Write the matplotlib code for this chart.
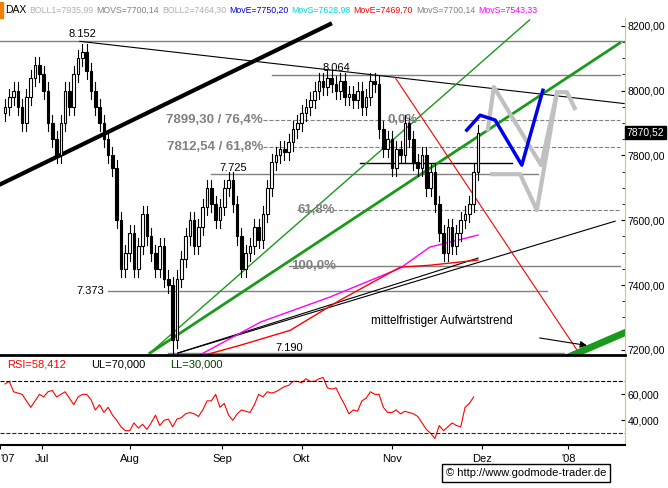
import matplotlib
matplotlib.use("Agg")
import matplotlib.pyplot as plt
from matplotlib.patches import Rectangle

# Data

closes = [7950, 7980, 8000, 7950, 7900, 7980, 8040, 8080, 8050,
          8000, 7900, 7850, 7800, 7900, 8000, 7950, 8050, 8100,
          8120, 8060, 8000, 7950, 7900, 7850, 7800, 7760,
          7600, 7450, 7500, 7560, 7450, 7520, 7620, 7550,
          7500, 7450, 7520, 7420, 7400, 7230, 7420,
          7480, 7550, 7600, 7520, 7580, 7640, 7700, 7650, 7600, 7640,
          7700, 7725, 7650, 7550, 7450, 7500,
          7520, 7580, 7540, 7620, 7700, 7780, 7800, 7820, 7810, 7840,
          7880, 7900, 7930, 7950, 7970, 8000, 8030, 8010, 8040, 8020,
          8000, 8030, 7980, 7990, 7970, 8000, 7950, 7980, 8030, 8020, 7880,
          7820, 7850, 7760, 7820, 7800, 7900, 7850, 7780, 7760, 7800, 7700, 7750,
          7650, 7560, 7500, 7580, 7520, 7560, 7600, 7620, 7650, 7750, 7870]
wick = 25

rsi = [68, 70, 62, 61, 60, 55, 50, 55, 60, 58, 62, 63, 58, 60, 62, 57, 52, 58, 60, 60,
       56, 48, 52, 46, 50, 44, 40, 35, 32, 32, 38, 34, 37, 33, 38, 44, 36, 40,
       41, 35, 41, 42, 45, 46, 45, 43, 48, 55, 55, 60, 50, 53, 44,
       40, 45, 48, 47, 46, 52, 60, 58, 62, 61, 62, 64, 66, 67, 70, 70, 69, 72, 70,
       70, 72, 73, 65, 64, 65, 58, 52, 45, 48, 47, 55, 57, 62, 60, 60, 50, 46, 46, 48,
       45, 47, 46, 45, 43, 38, 33, 30, 26, 36, 32, 35, 38, 36, 35, 50, 53, 58]

month_pos = [-1.1, 8.5, 29, 50.5, 69, 90, 111, 131]
month_lbl = ["'07", "Jul", "Aug", "Sep", "Okt", "Nov", "Dez", "'08"]

# Drawing

fig = plt.figure(figsize=(6.68, 4.88), dpi=100)
ax = fig.add_axes([0, 1 - 355/488, 625/668, 337/488])
rx = fig.add_axes([0, 1 - 445/488, 625/668, 87/488])

for i, c in enumerate(closes):
    o = closes[i - 1] if i > 0 else c - 20
    lo, hi = min(o, c), max(o, c)
    bottom = 7190 if i == 39 else lo - wick
    ax.plot([i, i], [bottom, hi + wick], color='black', lw=0.8, zorder=3)
    fc = 'white' if c >= o else 'black'
    ax.add_patch(Rectangle((i - 0.3, lo), 0.6, max(hi - lo, 3), facecolor=fc,
                           edgecolor='black', lw=0.8, zorder=4))

def seg(xs, ys, **kw):
    ax.plot(xs, ys, **kw)

gray = '#808080'
seg([-1.2, 144], [8153, 8153], color=gray, lw=1)
seg([62, 143], [8048, 8048], color=gray, lw=1)
seg([60, 143], [7910, 7910], color=gray, lw=0.8, ls='--')
seg([60, 143], [7825, 7825], color=gray, lw=0.8, ls='--')
seg([48, 124], [7742, 7742], color=gray, lw=1)
seg([68, 143], [7631, 7631], color=gray, lw=0.8, ls='--')
seg([66, 143], [7458, 7458], color=gray, lw=1)
seg([24, 126], [7381, 7381], color=gray, lw=1)
seg([38, 130], [7190, 7190], color=gray, lw=1)
seg([82.5, 118], [7776, 7776], color='black', lw=1)

seg([-1.2, 75.6], [7710, 8205], color='black', lw=3)
seg([17.4, 144], [8152, 7960], color='black', lw=0.8)
seg([33.7, 122], [7190, 8218], color='#1a9a1a', lw=1)
seg([33.7, 143], [7190, 8147], color='#1a9a1a', lw=2)
seg([40.2, 141.9], [7190, 7597], color='black', lw=0.8)
seg([40.2, 110], [7190, 7483], color='black', lw=0.8)
seg([90.7, 134], [8041, 7180], color='red', lw=0.8)
seg([45.3, 59.5, 75.6, 91.9, 98.8, 110], [7184, 7286, 7363, 7452, 7517, 7554],
    color='magenta', lw=1)
seg([46.5, 54.7, 66.3, 77.9, 91.9, 98.8, 110], [7184, 7214, 7260, 7353, 7455, 7461, 7477],
    color='red', lw=1)
seg([112.3, 113.7, 124.7, 128.4], [7880, 8011, 7770, 7995], color='#c0c0c0', lw=3, zorder=2)
seg([113.3, 119.8, 123.7, 128.4, 130.7, 132.5], [7742, 7742, 7631, 7995, 7995, 7946],
    color='#c0c0c0', lw=3, zorder=2)
seg([107.4, 110.5, 114, 120.2, 125.1], [7878, 7924, 7909, 7770, 8001], color='#0000ee', lw=2.5, zorder=5)
seg([131.4, 144], [7180, 7252], color='#1a9a1a', lw=5)
ax.annotate('', xy=(136, 7212), xytext=(123.7, 7238),
            arrowprops=dict(arrowstyle='-|>', color='black', lw=0.8))

tk = dict(fontsize=8, family='Liberation Sans')
ax.text(18, 8165, '8.152', ha='center', **tk)
ax.text(77, 8060, '8.064', ha='center', **tk)
ax.text(53, 7752, '7.725', ha='center', **tk)
ax.text(23, 7381, '7.373', ha='right', va='center', **tk)
ax.text(66, 7196, '7.190', ha='center', **tk)
ax.text(101.5, 7280, 'mittelfristiger Aufwärtstrend', ha='center', fontsize=8.5, family='Liberation Sans')
fb = dict(fontsize=9.5, family='Liberation Sans', color=gray, fontweight='bold', va='center')
ax.text(60, 7910, '7899,30 / 76,4%', ha='right', **fb)
ax.text(60, 7825, '7812,54 / 61,8%', ha='right', **fb)
ax.text(89, 7910, '0,0%', ha='left', **fb)
ax.text(68, 7631, '61,8%', ha='left', **fb)
ax.text(66.5, 7458, '100,0%', ha='left', **fb)

sk = dict(fontsize=7.5, family='Liberation Sans')
ax.set_xlim(-1.16, 144.2)
ax.set_ylim(7184, 8224)
ax.set_xticks([])
ax.yaxis.tick_right()
ax.set_yticks(range(7200, 8201, 200))
ax.set_yticks(range(7200, 8201, 50), minor=True)
ax.set_yticklabels([f'{v},00' for v in range(7200, 8201, 200)], **sk)
ax.tick_params(axis='y', direction='in', length=3, pad=2)
ax.tick_params(axis='y', which='minor', direction='in', length=2)
ax.text(144.6, 7870, '7870,52', ha='left', va='center', color='white', fontsize=7.5,
        family='Liberation Sans', bbox=dict(facecolor='black', pad=1.2, edgecolor='black'), clip_on=False)
for s in ['top', 'left']:
    ax.spines[s].set_visible(False)
ax.spines['bottom'].set_linewidth(2)
ax.spines['right'].set_color('#f0c040')

rx.plot(range(len(rsi)), rsi, color='red', lw=0.8)
rx.axhline(70, color='black', lw=0.8, ls='--')
rx.axhline(30, color='#004000', lw=0.8, ls='--')
rx.set_xlim(-1.16, 144.2)
rx.set_ylim(21, 88)
rx.yaxis.tick_right()
rx.set_yticks([40, 60])
rx.set_yticklabels(['40,000', '60,000'], **sk)
rx.tick_params(axis='y', direction='in', length=3, pad=2)
rx.set_xticks(month_pos)
rx.set_xticklabels(month_lbl, **tk)
rx.get_xticklabels()[0].set_horizontalalignment('left')
rx.tick_params(axis='x', direction='out', length=3)
rx.spines['top'].set_visible(False)
rx.spines['left'].set_visible(False)
rx.spines['bottom'].set_linewidth(1.5)
rx.spines['right'].set_color('#f0c040')
rx.text(0.5, 83, 'RSI=58,412', color='red', fontsize=8, family='Liberation Sans', va='center')
rx.text(20, 83, 'UL=70,000', color='black', fontsize=8, family='Liberation Sans', va='center')
rx.text(38.5, 83, 'LL=30,000', color='#004000', fontsize=8, family='Liberation Sans', va='center')

# header laid out left to right
hdr = [('DAX', 'black'), ('BOLL1=7935,99', '#b0b0b0'), ('MOVS=7700,14', gray),
       ('BOLL2=7464,30', '#b0b0b0'), ('MovE=7750,20', '#0000dd'),
       ('MovS=7628,98', '#00d8d8'), ('MovE=7469,70', 'red'),
       ('MovS=7700,14', gray), ('MovS=7543,33', 'magenta')]
r = fig.canvas.get_renderer()
x = 5
for t, c in hdr:
    fs = 7.5 if t == 'DAX' else 6.3
    tx = fig.text(x/668, 1 - 10/488, t, color=c, fontsize=fs, family='Liberation Sans', va='center')
    x += tx.get_window_extent(r).width + 3
fig.patches.append(Rectangle((0, 1 - 18/488), 3/668, 16/488, transform=fig.transFigure,
                             color='#f08000'))
fig.text(526/668, 1 - 473/488, '© http://www.godmode-trader.de', fontsize=8,
         family='Liberation Sans', ha='center', va='center',
         bbox=dict(facecolor='white', edgecolor='black', pad=3))

fig.savefig('out.png')
